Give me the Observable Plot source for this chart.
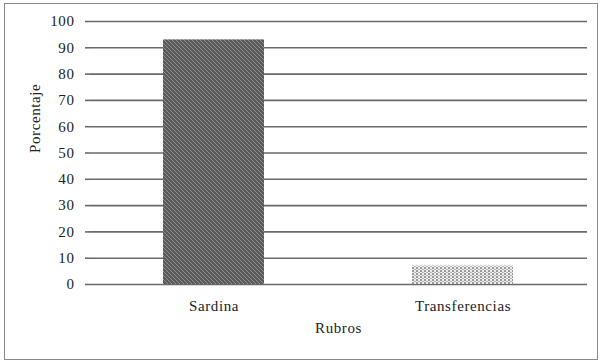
<!DOCTYPE html>
<html>
<head>
<meta charset="utf-8">
<script src="https://cdn.jsdelivr.net/npm/d3@7"></script>
<script src="https://cdn.jsdelivr.net/npm/@observablehq/plot@0.6"></script>
<style>
  html, body { margin: 0; padding: 0; background: #fff; }
  #wrap { position: relative; width: 600px; height: 361px; overflow: hidden; }
  #border { position: absolute; left: 4px; top: 3px; width: 592px; height: 355px; border: 1px solid #8a8a8a; pointer-events: none; }
  #chart { position: absolute; left: 0; top: 0; }
  #chart svg, #chart svg g, #chart svg text { font-family: "Times New Roman", "Liberation Serif", Tinos, "DejaVu Serif", serif !important; font-size: 15px !important; letter-spacing: 0.6px; }
</style>
</head>
<body>
<div id="wrap"><div id="chart"></div><div id="border"></div></div>
<script>
const categories = ["Sardina", "Transferencias"];
const values = [93, 7];
const yTicks = [0, 10, 20, 30, 40, 50, 60, 70, 80, 90, 100];
const yLabel = "Porcentaje";
const xLabel = "Rubros";
const patterns = ["url(#patSardina)", "url(#patTrans)"];

const data = categories.map((c, i) => ({rubro: c, pct: values[i]}));

const svg = Plot.plot({
  width: 600,
  height: 361,
  marginLeft: 89,
  marginRight: 13,
  marginTop: 21,
  marginBottom: 77,
  style: {fontFamily: "'Times New Roman', 'Liberation Serif', serif", fontSize: "15px", color: "#222", background: "transparent"},
  x: {domain: categories, paddingInner: 0.594, paddingOuter: 0.297, label: null},
  y: {domain: [0, 100], label: null},
  color: {domain: categories, range: patterns},
  marks: [
    Plot.ruleY(yTicks, {stroke: "#6a6a6a", strokeWidth: 1.6}),
    Plot.barY(data, {x: "rubro", y: "pct", fill: "rubro"}),
    Plot.axisY({ticks: yTicks, tickSize: 4, tickPadding: 11, stroke: "#6a6a6a", strokeWidth: 1.6, fill: "#222", label: null}),
    Plot.ruleX([0], {frameAnchor: "left", stroke: "#6a6a6a", strokeWidth: 1.6}),
    Plot.axisX({tickSize: 0, tickPadding: 16, fill: "#222", label: null}),
    Plot.text([yLabel], {frameAnchor: "left", dx: -54, rotate: -90, fill: "#222", lineAnchor: "middle"}),
    Plot.text([xLabel], {frameAnchor: "bottom", dy: 44, fill: "#222", lineAnchor: "middle"})
  ]
});

const defs = d3.select(svg).insert("defs", ":first-child");
const p1 = defs.append("pattern").attr("id", "patSardina").attr("patternUnits", "userSpaceOnUse").attr("width", 4).attr("height", 4);
p1.append("rect").attr("width", 4).attr("height", 4).attr("fill", "#5a5a5a");
p1.append("path").attr("d", "M-1,-1 L5,5 M3,-1 L5,1 M-1,3 L1,5").attr("stroke", "#969696").attr("stroke-width", 0.9);
const p2 = defs.append("pattern").attr("id", "patTrans").attr("patternUnits", "userSpaceOnUse").attr("width", 4).attr("height", 3);
p2.append("rect").attr("width", 4).attr("height", 3).attr("fill", "#f0f0f0");
p2.append("circle").attr("cx", 1).attr("cy", 1).attr("r", 1).attr("fill", "#7c7c7c");
p2.append("circle").attr("cx", 3).attr("cy", 2.5).attr("r", 0.8).attr("fill", "#a0a0a0");

document.getElementById("chart").appendChild(svg);
</script>
</body>
</html>
